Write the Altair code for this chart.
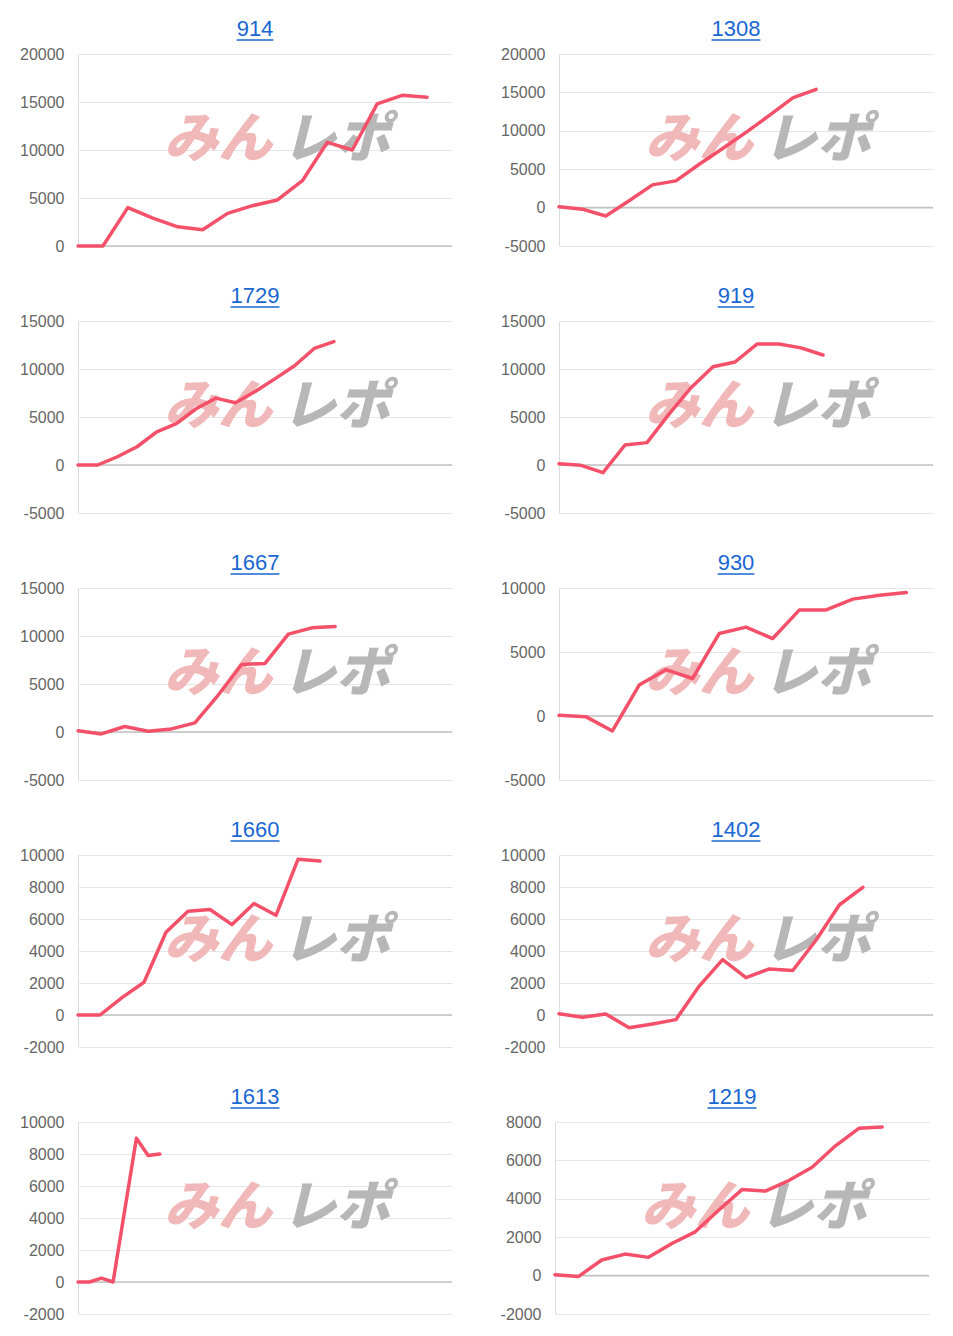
import altair as alt
import pandas as pd

# ---- data ----
titles = ["914", "1308", "1729", "919", "1667", "930", "1660", "1402", "1613", "1219"]

v914 = [0, 0, 4000, 2900, 2000, 1700, 3400, 4200, 4800, 6800, 10800, 10000, 14800, 15700, 15500]
v1308 = [100, -200, -1100, 900, 2960, 3480, 5650, 7700, 9800, 12000, 14300, 15400]
v1729 = [0, 0, 860, 1900, 3450, 4300, 5860, 6970, 6480, 7650, 8970, 10340, 12140, 12860]
v919 = [140, -30, -800, 2080, 2330, 5300, 8050, 10240, 10730, 12600, 12600, 12200, 11460]
v1667 = [140, -200, 570, 70, 320, 950, 3850, 7030, 7140, 10200, 10850, 11000]
v930 = [50, -50, -1170, 2420, 3620, 2930, 6450, 6940, 6050, 8290, 8290, 9130, 9440, 9640]
v1660 = [0, 0, 1090, 2050, 5170, 6490, 6590, 5650, 6970, 6230, 9730, 9620]
v1402 = [80, -140, 60, -800, -560, -290, 1810, 3460, 2330, 2880, 2780, 4690, 6890, 7980]
v1613 = [0, 0, 240, 0, 4500, 8980, 7900, 8000]
v1219 = [50, -50, 810, 1120, 950, 1670, 2280, 3400, 4480, 4400, 4950, 5640, 6760, 7670, 7740]

series = [v914, v1308, v1729, v919, v1667, v930, v1660, v1402, v1613, v1219]
x_max = [15, 16, 19, 17, 16, 14, 17, 16, 32, 16]
y_min = [0, -5000, -5000, -5000, -5000, -5000, -2000, -2000, -2000, -2000]
y_max = [20000, 20000, 15000, 15000, 15000, 10000, 10000, 10000, 10000, 8000]
y_step = [5000, 5000, 5000, 5000, 5000, 5000, 2000, 2000, 2000, 2000]

# ---- styles ----
W, H = 374, 192
LINE = "#f4506a"
TITLE_C = "#1967d2"
FONT = "Liberation Sans"
WM_FONT = "Noto Sans CJK JP"


def panel(i):
    vals = series[i]
    df = pd.DataFrame({"x": list(range(len(vals))), "v": vals})
    ticks = list(range(y_min[i], y_max[i] + 1, y_step[i]))
    xs = alt.Scale(domain=[0, x_max[i]], nice=False, zero=False)
    ys = alt.Scale(domain=[y_min[i], y_max[i]], nice=False, zero=False)

    one = pd.DataFrame({"k": [0]})

    # watermark (decoration, behind the line)
    wm1 = alt.Chart(one).mark_text(
        text="みん", font=WM_FONT, fontSize=54, fontWeight=900, fontStyle="italic",
        color="#f1b8b9", align="center", baseline="middle"
    ).encode(x=alt.value(140), y=alt.value(87))
    wm2 = alt.Chart(one).mark_text(
        text="レポ", font=WM_FONT, fontSize=54, fontWeight=900, fontStyle="italic",
        color="#b7b7b7", align="center", baseline="middle"
    ).encode(x=alt.value(258), y=alt.value(87))

    line = alt.Chart(df).mark_line(
        color=LINE, strokeWidth=3.5, strokeJoin="round", strokeCap="round"
    ).encode(
        x=alt.X("x:Q", scale=xs, axis=None),
        y=alt.Y("v:Q", scale=ys, axis=alt.Axis(
            values=ticks, tickCount=len(ticks) + 2, title=None,
            labelExpr="'' + datum.value",
            labelOverlap=False, ticks=False, labelPadding=14,
            labelFontSize=16, labelColor="#666666", labelFont=FONT,
            gridColor="#e6e6e6", domainColor="#dcdcdc",
        )),
    )

    zero = alt.Chart(one).mark_rule(color="#c2c2c2", strokeWidth=1.5).encode(
        y=alt.datum(0)
    )

    cx = W / 2 - 10
    hw = len(titles[i]) * 0.556 * 22 / 2
    title = alt.Chart(one).mark_text(
        text=titles[i], font=FONT, fontSize=22, color=TITLE_C,
        align="center", baseline="alphabetic"
    ).encode(x=alt.value(cx), y=alt.value(-18))
    underline = alt.Chart(one).mark_rule(color=TITLE_C, strokeWidth=1.5).encode(
        x=alt.value(cx - hw), x2=alt.value(cx + hw), y=alt.value(-14)
    )

    return alt.layer(wm1, wm2, zero, line, title, underline).properties(width=W, height=H)


rows = [
    alt.hconcat(panel(2 * r), panel(2 * r + 1), spacing=47)
    for r in range(5)
]

chart = alt.vconcat(*rows, spacing=31).properties(
    padding={"left": 19, "top": 18, "right": 5, "bottom": 5},
    background="white",
).configure_view(strokeWidth=0).configure_axis(
    grid=True, gridColor="#e6e6e6", gridWidth=1,
    domainColor="#dcdcdc", domainWidth=1,
    ticks=False, labelPadding=14, labelFontSize=16, labelColor="#666666",
    labelFont=FONT, labelOverlap=False,
)

chart.save("out.html", embed_options={"renderer": "svg", "actions": False})
